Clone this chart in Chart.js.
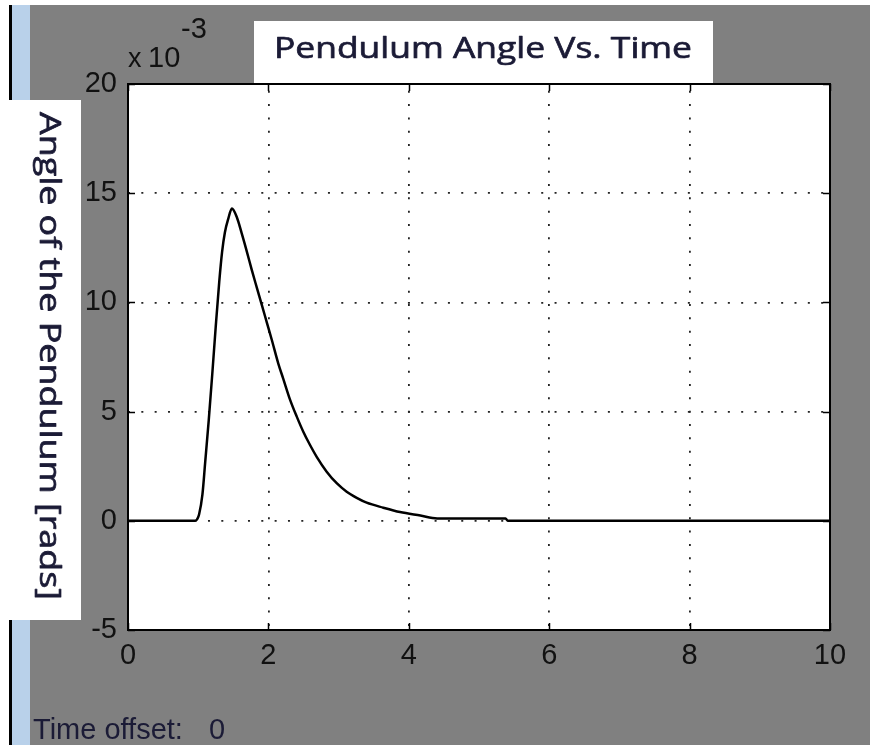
<!DOCTYPE html>
<html>
<head>
<meta charset="utf-8">
<script src="https://cdn.jsdelivr.net/npm/chart.js@4.4.1/dist/chart.umd.min.js"></script>
<style>
  html, body { margin: 0; padding: 0; background: #ffffff; }
  canvas { display: block; }
</style>
</head>
<body>
<canvas id="scope" width="870" height="745"></canvas>
<script>
// Pendulum response: time [s] and angle [rad]
const timeSec = [
  0, 0.956, 0.990, 1.013, 1.060, 1.100, 1.150, 1.200, 1.250, 1.300, 1.340,
  1.380, 1.430, 1.480, 1.548, 1.620, 1.691, 1.762, 1.833, 1.905, 1.976,
  2.047, 2.141, 2.212, 2.308, 2.404, 2.497, 2.593, 2.688, 2.830, 2.973,
  3.115, 3.258, 3.400, 3.637, 3.875, 4.165, 4.404, 5.378, 5.410, 10
];
const angleRad = [
  0, 0, 0.00010, 0.00030, 0.00120, 0.00270, 0.00460, 0.00670, 0.00890, 0.01095, 0.01230,
  0.01320, 0.01385, 0.01430, 0.01392, 0.01316, 0.01235, 0.01150, 0.01070, 0.00990, 0.00910,
  0.00830, 0.00720, 0.00650, 0.00555, 0.00477, 0.00408, 0.00347, 0.00293, 0.00225, 0.00172,
  0.00133, 0.00105, 0.00083, 0.00060, 0.00040, 0.00024, 0.00011, 0.00011, 0, 0
];
const xTicks = [0, 2, 4, 6, 8, 10];
const yTicks = [-0.005, 0, 0.005, 0.010, 0.015, 0.020];
const yExponent = -3;

const titleText = 'Pendulum Angle Vs. Time';
const yLabelText = 'Angle of the Pendulum [rads]';
const offsetLabel = 'Time offset:';
const offsetValue = '0';

const GRAY = '#808080';
const INK = '#1b1b36';
const TICK_FONT = '"Liberation Sans", Arial, sans-serif';
const TITLE_FONT = '"Open Sans", "Noto Sans", sans-serif';

// Draw text stretched along its own direction to a given width,
// with a thin outline to give it a slightly heavier stroke
function drawFitted(ctx, text, x, y, width, font, color, angle) {
  ctx.save();
  ctx.font = font;
  const w = ctx.measureText(text).width;
  ctx.translate(x, y);
  if (angle) ctx.rotate(angle);
  ctx.scale(width / w, 1);
  ctx.fillStyle = color;
  ctx.strokeStyle = color;
  ctx.lineWidth = 0.7;
  ctx.lineJoin = 'round';
  ctx.textAlign = 'left';
  ctx.textBaseline = 'alphabetic';
  ctx.fillText(text, 0, 0);
  ctx.strokeText(text, 0, 0);
  ctx.restore();
}

const scopeDecor = {
  id: 'scopeDecor',
  beforeDraw(chart) {
    const { ctx, chartArea: a, width, height } = chart;
    ctx.save();
    ctx.fillStyle = '#ffffff';
    ctx.fillRect(0, 0, width, height);
    ctx.fillStyle = GRAY;
    ctx.fillRect(30, 5, width - 30, height - 5);
    ctx.fillStyle = '#b9d1ea';
    ctx.fillRect(12, 5, 18, height - 5);
    ctx.fillStyle = '#000000';
    ctx.fillRect(9, 5, 3, height - 5);
    ctx.fillStyle = '#ffffff';
    ctx.fillRect(a.left, a.top, a.right - a.left, a.bottom - a.top);
    ctx.restore();
  },
  afterDraw(chart) {
    const { ctx, chartArea: a, scales } = chart;
    ctx.save();

    // white boxes behind title and y label
    ctx.fillStyle = '#ffffff';
    ctx.fillRect(254, 21, 459, a.top - 21);
    ctx.fillRect(8, 100, 73, 520);

    // axes box
    ctx.strokeStyle = '#000000';
    ctx.lineWidth = 2;
    ctx.strokeRect(a.left, a.top, a.right - a.left, a.bottom - a.top);

    // inward tick marks on all four sides
    const tl = 7;
    ctx.lineWidth = 1.5;
    ctx.beginPath();
    scales.x.ticks.forEach(t => {
      const px = Math.round(scales.x.getPixelForValue(t.value)) + 0.5;
      ctx.moveTo(px, a.bottom); ctx.lineTo(px, a.bottom - tl);
      ctx.moveTo(px, a.top); ctx.lineTo(px, a.top + tl);
    });
    scales.y.ticks.forEach(t => {
      const py = Math.round(scales.y.getPixelForValue(t.value)) + 0.5;
      ctx.moveTo(a.left, py); ctx.lineTo(a.left + tl, py);
      ctx.moveTo(a.right, py); ctx.lineTo(a.right - tl, py);
    });
    ctx.stroke();

    // title
    drawFitted(ctx, titleText, 274, 58, 418, '30px ' + TITLE_FONT, INK, 0);

    // y axis label, reading top to bottom
    drawFitted(ctx, yLabelText, 40, 112, 488, '30px ' + TITLE_FONT, INK, Math.PI / 2);

    // axis multiplier
    ctx.fillStyle = '#111111';
    ctx.textAlign = 'left';
    ctx.textBaseline = 'alphabetic';
    ctx.font = '27px ' + TICK_FONT;
    ctx.fillText('x', a.left, 67);
    ctx.font = '29px ' + TICK_FONT;
    ctx.fillText('10', 148, 67);
    ctx.fillText(String(yExponent), 181, 38);

    // time offset readout
    ctx.fillStyle = INK;
    ctx.font = '29px ' + TICK_FONT;
    ctx.fillText(offsetLabel, 33, 739);
    ctx.fillText(offsetValue, 209, 739);

    ctx.restore();
  }
};

const points = timeSec.map((t, i) => ({ x: t, y: angleRad[i] }));

new Chart(document.getElementById('scope'), {
  type: 'line',
  data: {
    datasets: [{
      data: points,
      borderColor: '#000000',
      borderWidth: 2.5,
      pointRadius: 0,
      fill: false,
      cubicInterpolationMode: 'monotone'
    }]
  },
  options: {
    responsive: false,
    animation: false,
    events: [],
    layout: { padding: { left: 0, top: 84, right: 40, bottom: 0 } },
    plugins: { legend: { display: false }, tooltip: { enabled: false }, title: { display: false } },
    scales: {
      x: {
        type: 'linear',
        min: 0,
        max: 10,
        afterBuildTicks: s => { s.ticks = xTicks.map(v => ({ value: v })); },
        afterFit: s => { s.height = 115; },
        grid: { color: '#222222', lineWidth: 1.8, drawTicks: false },
        border: { display: false, dash: [2, 11.33], dashOffset: 6.6 },
        ticks: {
          padding: 9,
          maxRotation: 0,
          color: '#111111',
          font: { family: TICK_FONT, size: 29 },
          callback: v => String(v)
        }
      },
      y: {
        type: 'linear',
        min: -0.005,
        max: 0.02,
        afterBuildTicks: s => { s.ticks = yTicks.map(v => ({ value: v })); },
        afterFit: s => { s.width = 128; },
        grid: { color: '#222222', lineWidth: 1.8, drawTicks: false },
        border: { display: false, dash: [2, 11.33], dashOffset: 0 },
        ticks: {
          padding: 11,
          color: '#111111',
          font: { family: TICK_FONT, size: 29 },
          callback: v => String(Math.round(v * Math.pow(10, -yExponent)))
        }
      }
    }
  },
  plugins: [scopeDecor]
});
</script>
</body>
</html>
